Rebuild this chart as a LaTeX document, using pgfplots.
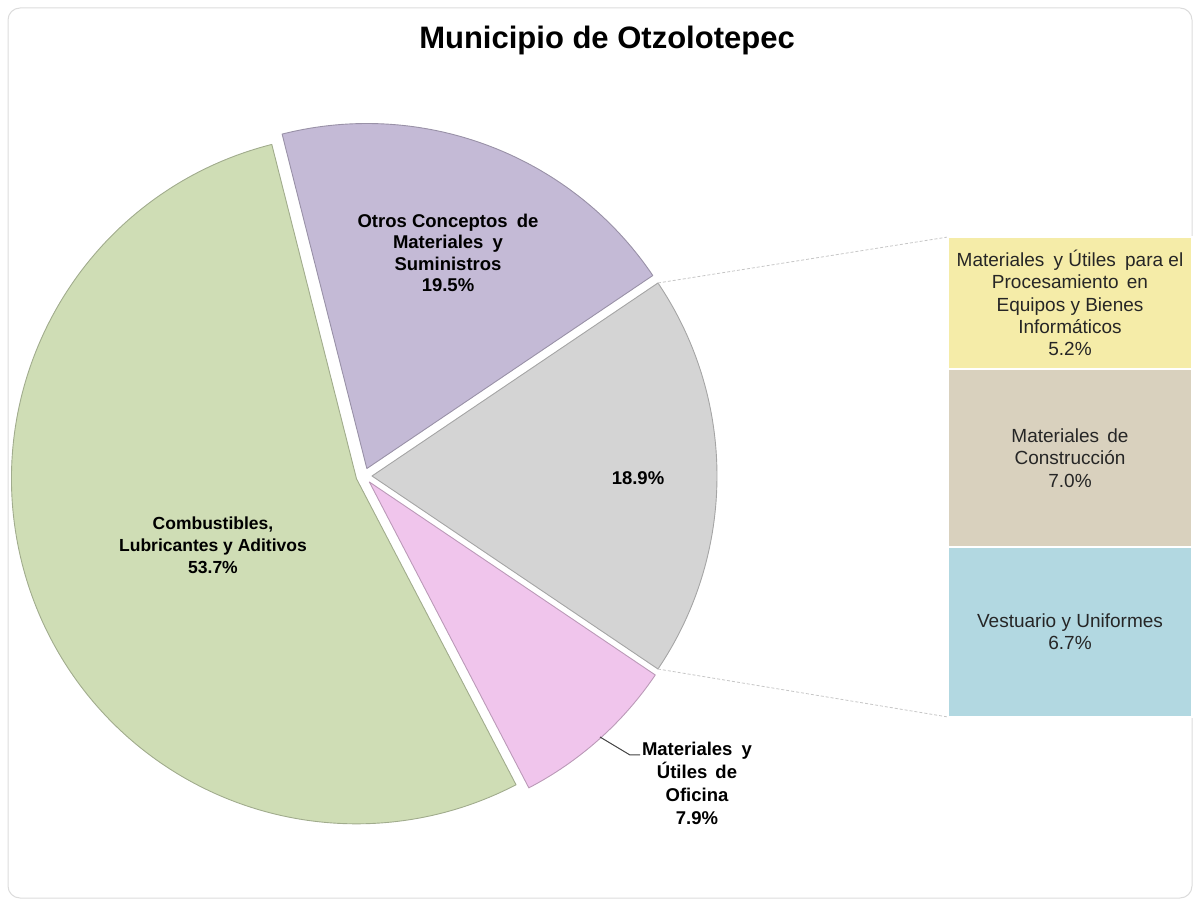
\documentclass[border=0pt]{standalone}
\usepackage{fontspec}
\setmainfont{Liberation Sans}
\usepackage{pgfplots}
\usepackage{pgfplotstable}
\pgfplotsset{compat=1.18}

\definecolor{cGreen}{RGB}{207,221,181}
\definecolor{cPurple}{RGB}{196,186,214}
\definecolor{cGray}{RGB}{212,212,212}
\definecolor{cPink}{RGB}{240,197,236}
\definecolor{cYellow}{RGB}{245,236,168}
\definecolor{cTan}{RGB}{217,209,190}
\definecolor{cBlue}{RGB}{178,216,225}
\definecolor{cBorder}{RGB}{220,220,220}

% main pie (counter-clockwise, first slice centred on the right)
\pgfplotstableread{
slice value colour
Otros 18.9 cGray
OtrosConceptos 19.5 cPurple
Combustibles 53.7 cGreen
Oficina 7.9 cPink
}\piedata

% bar of the pie (bottom to top)
\pgfplotstableread{
x value
0 6.7
0 7.0
0 5.2
}\bardata

\def\piecx{364}\def\piecy{427}\def\pier{345}\def\pieexp{8}
\makeatletter
\gdef\piecmds{}
\pgfplotstablegetelem{0}{value}\of\piedata
\pgfmathsetmacro\piestart{-\pgfplotsretval*1.8}
\xdef\piecur{\piestart}
\pgfplotsforeachungrouped \ii in {0,1,2,3}{%
  \pgfplotstablegetelem{\ii}{value}\of\piedata \let\pval\pgfplotsretval
  \pgfplotstablegetelem{\ii}{colour}\of\piedata \let\pcol\pgfplotsretval
  \pgfmathsetmacro\pA{\piecur}%
  \pgfmathsetmacro\pB{\piecur+3.6*\pval}%
  \pgfmathsetmacro\pM{(\pA+\pB)/2}%
  \pgfmathsetmacro\pox{\piecx+\pieexp*cos(\pM)}%
  \pgfmathsetmacro\poy{\piecy+\pieexp*sin(\pM)}%
  \edef\tmp{\noexpand\filldraw[overlay, fill=\pcol, draw=\pcol!78!black, line width=0.9pt, line join=round] (axis cs:\pox,\poy) -- ++(\pA:\pier pt) arc[start angle=\pA, end angle=\pB, radius=\pier pt] -- cycle;}%
  \expandafter\g@addto@macro\expandafter\piecmds\expandafter{\tmp}%
  \xdef\piecur{\pB}%
}
\makeatother
\pgfmathsetmacro\gtx{\piecx+\pieexp+\pier*cos(-\piestart)}
\pgfmathsetmacro\gty{\piecy+\pier*sin(-\piestart)}
\pgfmathsetmacro\gbx{\piecx+\pieexp+\pier*cos(\piestart)}
\pgfmathsetmacro\gby{\piecy+\pier*sin(\piestart)}

\begin{document}
\begin{tikzpicture}
\begin{axis}[x=1pt, y=1pt, xmin=0, xmax=1195, ymin=0, ymax=903,
  hide axis, clip=false, at={(0,0)}, anchor=south west]
  \path (axis cs:0,0) rectangle (axis cs:1195,903);
  \draw[cBorder, line width=1pt, rounded corners=12pt] (axis cs:8,5) rectangle (axis cs:1192,895);
  \node[font=\fontsize{31}{36}\selectfont\bfseries] at (axis cs:607,863) {Municipio de Otzolotepec};
  \piecmds
  \draw[densely dashed, gray!45, line width=0.8pt] (axis cs:\gtx,\gty) -- (axis cs:948,666);
  \draw[densely dashed, gray!45, line width=0.8pt] (axis cs:\gbx,\gby) -- (axis cs:948,186);
  \node[align=center, font=\fontsize{18.5}{21.5}\selectfont\bfseries] at (axis cs:448,650)
    {Otros Conceptos\hspace{4pt} de\\ Materiales\hspace{4pt} y\\ Suministros\\ 19.5\%};
  \node[align=center, font=\fontsize{17.5}{22}\selectfont\bfseries] at (axis cs:213,358)
    {Combustibles,\\ Lubricantes y Aditivos\\ 53.7\%};
  \node[font=\fontsize{18.5}{22}\selectfont\bfseries] at (axis cs:638,425) {18.9\%};
  \draw[black!75, line width=1pt] (axis cs:600,166) -- (axis cs:630,148) -- (axis cs:640,148);
  \node[align=center, font=\fontsize{18.5}{23}\selectfont\bfseries] at (axis cs:697,120)
    {Materiales\hspace{4pt} y\\ Útiles\hspace{3pt} de\\ Oficina\\ 7.9\%};
\end{axis}
\begin{axis}[at={(948pt,186pt)}, anchor=south west, width=244pt, height=480pt,
  scale only axis, xmin=-0.5, xmax=0.5, ymin=0, ymax=18.9, hide axis, clip=false,
  ybar stacked, bar width=244pt]
  \addplot[fill=cBlue, draw=white, line width=2pt] table[x=x, y=value, skip coords between index={1}{3}] {\bardata};
  \addplot[fill=cTan, draw=white, line width=2pt] table[x=x, y=value, skip coords between index={0}{1}, skip coords between index={2}{3}] {\bardata};
  \addplot[fill=cYellow, draw=white, line width=2pt] table[x=x, y=value, skip coords between index={0}{2}] {\bardata};
  \coordinate (lblY) at (axis cs:0,16.3);
  \coordinate (lblT) at (axis cs:0,10.2);
  \coordinate (lblB) at (axis cs:0,3.35);
\end{axis}
\node[align=center, text=black!85, font=\fontsize{19}{22.3}\selectfont] at (lblY)
  {Materiales\hspace{4pt} y Útiles\hspace{4pt} para el\\ Procesamiento\hspace{3pt} en\\ Equipos y Bienes\\ Informáticos\\ 5.2\%};
\node[align=center, text=black!85, font=\fontsize{19}{22.5}\selectfont] at (lblT)
  {Materiales\hspace{3pt} de\\ Construcción\\ 7.0\%};
\node[align=center, text=black!85, font=\fontsize{19}{22.5}\selectfont] at (lblB)
  {Vestuario y Uniformes\\ 6.7\%};
\end{tikzpicture}
\end{document}
